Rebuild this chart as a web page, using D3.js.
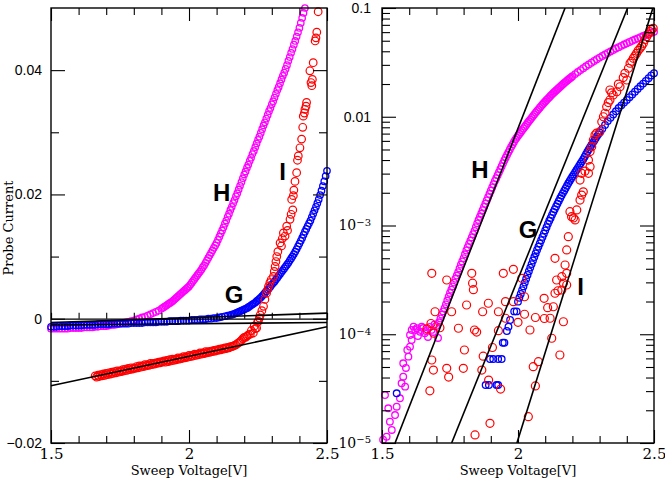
<!DOCTYPE html>
<html><head><meta charset="utf-8">
<script src="https://cdn.jsdelivr.net/npm/d3@7"></script>
<style>body{margin:0;background:#fff}</style>
</head><body>
<svg id="c" width="665" height="486"></svg>
<script>
// ---------------- DATA ----------------
// sweep voltage grid (V)
const sweepV = [1.50,1.51,1.52,1.53,1.54,1.55,1.56,1.57,1.58,1.59,1.60,1.61,1.62,1.63,1.64,1.65,1.66,1.67,1.68,1.69,
1.70,1.71,1.72,1.73,1.74,1.75,1.76,1.77,1.78,1.79,1.80,1.81,1.82,1.83,1.84,1.85,1.86,1.87,1.88,1.89,
1.90,1.91,1.92,1.93,1.94,1.95,1.96,1.97,1.98,1.99,2.00,2.01,2.02,2.03,2.04,2.05,2.06,2.07,2.08,2.09,
2.10,2.11,2.12,2.13,2.14,2.15,2.16,2.17,2.18,2.19,2.20,2.21,2.22,2.23,2.24,2.25,2.26,2.27,2.28,2.29,
2.30,2.31,2.32,2.33,2.34,2.35,2.36,2.37,2.38,2.39,2.40,2.41,2.42,2.43,2.44,2.45,2.46,2.47,2.48,2.49,2.50];

// Left panel: probe current for H and G on the sweep grid
const leftH = [-0.0016,-0.0016,-0.0016,-0.0016,-0.0016,-0.0016,-0.0016,-0.0015,-0.0015,-0.0015,
-0.0015,-0.0015,-0.0014,-0.0014,-0.0014,-0.0014,-0.0013,-0.0013,-0.0012,-0.0012,
-0.0012,-0.0011,-0.0010,-0.0010,-0.0009,-0.0008,-0.0007,-0.0006,-0.0005,-0.0004,
-0.0003,-0.0001,0.0000,0.0002,0.0003,0.0005,0.0007,0.0009,0.0011,0.0013,
0.0016,0.0019,0.0022,0.0025,0.0028,0.0032,0.0036,0.0040,0.0044,0.0048,
0.0052,0.0058,0.0064,0.0070,0.0076,0.0083,0.0090,0.0098,0.0106,0.0114,
0.0122,0.0132,0.0142,0.0153,0.0164,0.0175,0.0186,0.0197,0.0208,0.0220,
0.0232,0.0243,0.0254,0.0265,0.0276,0.0288,0.0299,0.0311,0.0322,0.0334,
0.0345,0.0356,0.0368,0.0379,0.0391,0.0402,0.0415,0.0428,0.0441,0.0454,
0.0468,0.0484,0.0500,null,null,null,null,null,null,null,null];
// extra readings of H between grid points on the rising part [V, current]
const leftHFine = [[1.905,0.00175],[1.915,0.00205],[1.925,0.00235],[1.935,0.00265],[1.945,0.0030],[1.955,0.0034],
[1.965,0.0038],[1.975,0.0042],[1.985,0.0046],[1.995,0.0050],[2.005,0.0055],[2.015,0.0061],[2.025,0.0067],[2.035,0.0073],
[2.045,0.0079],[2.055,0.0086],[2.065,0.0094],[2.075,0.0102],[2.085,0.0110],[2.095,0.0118],[2.105,0.0127],[2.115,0.0137],
[2.125,0.0147],[2.135,0.0158],[2.145,0.0169],[2.155,0.0180],[2.165,0.0191],[2.175,0.0202],[2.185,0.0214],[2.195,0.0226],
[2.205,0.0237],[2.215,0.0248],[2.225,0.0259],[2.235,0.0270],[2.245,0.0282],[2.255,0.0293],[2.265,0.0305],[2.275,0.0316],
[2.285,0.0328],[2.295,0.0339],[2.305,0.0350],[2.315,0.0362],[2.325,0.0373],[2.335,0.0385],[2.345,0.0396],[2.355,0.0408],
[2.365,0.0421],[2.375,0.0434],[2.385,0.0447],[2.395,0.0461],[2.405,0.0476],[2.415,0.0492]];

const leftG = [-0.0013,-0.0013,-0.0013,-0.0012,-0.0012,-0.0012,-0.0012,-0.0011,-0.0011,-0.0011,
-0.0011,-0.0011,-0.0010,-0.0010,-0.0010,-0.0010,-0.0010,-0.0009,-0.0009,-0.0009,
-0.0009,-0.0009,-0.0008,-0.0008,-0.0008,-0.0008,-0.0008,-0.0008,-0.0008,-0.0007,
-0.0007,-0.0007,-0.0007,-0.0007,-0.0006,-0.0006,-0.0006,-0.0006,-0.0006,-0.0005,
-0.0005,-0.0005,-0.0005,-0.0004,-0.0004,-0.0004,-0.0004,-0.0003,-0.0003,-0.0003,
-0.0003,-0.0002,-0.0002,-0.0002,-0.0001,-0.0001,-0.0001,0.0000,0.0000,0.0001,
0.0001,0.0002,0.0003,0.0004,0.0005,0.0006,0.0007,0.0009,0.0011,0.0013,
0.0015,0.0017,0.0020,0.0023,0.0026,0.0030,0.0034,0.0039,0.0044,0.0049,
0.0055,0.0060,0.0066,0.0072,0.0078,0.0084,0.0090,0.0097,0.0104,0.0112,
0.0121,0.0130,0.0140,0.0149,0.0158,0.0169,0.0180,0.0192,0.0206,0.0221,0.0238];
const leftGFine = [[2.155,0.00065],[2.165,0.0008],[2.175,0.0010],[2.185,0.0012],[2.195,0.0014],[2.205,0.0016],
[2.215,0.00185],[2.225,0.00215],[2.235,0.00245],[2.245,0.0028],[2.255,0.0032],[2.265,0.00365],[2.275,0.00415],
[2.285,0.00465],[2.295,0.0052],[2.305,0.00575],[2.315,0.0063],[2.325,0.0069],[2.335,0.0075],[2.345,0.0081],
[2.355,0.0087],[2.365,0.00935],[2.375,0.01005],[2.385,0.0108],[2.395,0.01165],[2.405,0.01255],[2.415,0.0135],
[2.425,0.01445],[2.435,0.01535],[2.445,0.01635],[2.455,0.01745],[2.465,0.0186],[2.475,0.0199],[2.485,0.02135],[2.495,0.02295]];

// Left panel: I (scattered) [V, current]
const leftI = [[1.660,-0.0092],[1.665,-0.0094],[1.670,-0.0091],[1.675,-0.0093],[1.680,-0.0090],[1.685,-0.0092],
[1.690,-0.0089],[1.695,-0.0091],[1.700,-0.0088],[1.705,-0.0090],[1.710,-0.0087],[1.715,-0.0089],[1.720,-0.0086],
[1.725,-0.0088],[1.730,-0.0085],[1.735,-0.0087],[1.740,-0.0084],[1.745,-0.0086],[1.750,-0.0084],[1.755,-0.0085],
[1.760,-0.0082],[1.765,-0.0084],[1.770,-0.0081],[1.775,-0.0083],[1.780,-0.0080],[1.785,-0.0082],[1.790,-0.0079],
[1.795,-0.0081],[1.800,-0.0079],[1.805,-0.0080],[1.810,-0.0077],[1.815,-0.0079],[1.820,-0.0076],[1.825,-0.0078],
[1.830,-0.0076],[1.835,-0.0077],[1.840,-0.0074],[1.845,-0.0076],[1.850,-0.0074],[1.855,-0.0075],[1.860,-0.0072],
[1.865,-0.0074],[1.870,-0.0072],[1.875,-0.0073],[1.880,-0.0071],[1.885,-0.0072],[1.890,-0.0070],[1.895,-0.0071],
[1.900,-0.0069],[1.905,-0.0070],[1.910,-0.0068],[1.915,-0.0070],[1.920,-0.0067],[1.925,-0.0069],[1.930,-0.0066],
[1.935,-0.0068],[1.940,-0.0065],[1.945,-0.0067],[1.950,-0.0065],[1.955,-0.0066],[1.960,-0.0063],[1.965,-0.0065],
[1.970,-0.0063],[1.975,-0.0064],[1.980,-0.0061],[1.985,-0.0063],[1.990,-0.0061],[1.995,-0.0062],[2.000,-0.0059],
[2.005,-0.0061],[2.010,-0.0059],[2.015,-0.0060],[2.020,-0.0057],[2.025,-0.0059],[2.030,-0.0057],[2.035,-0.0058],
[2.040,-0.0055],[2.045,-0.0057],[2.050,-0.0055],[2.055,-0.0056],[2.060,-0.0053],[2.065,-0.0055],[2.070,-0.0053],
[2.075,-0.0054],[2.080,-0.0052],[2.085,-0.0053],[2.090,-0.0051],[2.095,-0.0052],[2.100,-0.0050],[2.105,-0.0051],
[2.110,-0.0049],[2.115,-0.0050],[2.120,-0.0048],[2.125,-0.0049],[2.130,-0.0047],[2.135,-0.0048],[2.140,-0.0046],
[2.145,-0.0047],[2.150,-0.0045],[2.155,-0.0045],[2.160,-0.0044],[2.165,-0.0043],[2.170,-0.0042],[2.175,-0.0040],
[2.180,-0.0039],[2.185,-0.0037],[2.190,-0.0035],[2.195,-0.0032],[2.200,-0.0030],
[2.205,-0.0030],[2.210,-0.0028],[2.215,-0.0026],[2.222,-0.0025],[2.226,-0.0019],[2.233,-0.0023],[2.236,-0.0012],
[2.240,-0.0016],[2.245,-0.0015],[2.248,-0.0006],[2.251,-0.0004],[2.255,0.0001],[2.258,0.0006],[2.264,0.0013],
[2.270,0.0020],[2.275,0.0031],[2.281,0.0041],[2.285,0.0047],[2.288,0.0052],[2.293,0.0058],[2.298,0.0063],
[2.306,0.0068],[2.309,0.0076],[2.312,0.0084],[2.315,0.0092],[2.318,0.0100],[2.322,0.0108],[2.330,0.0122],
[2.335,0.0117],[2.338,0.0129],[2.342,0.0138],[2.348,0.0133],[2.354,0.0149],[2.357,0.0142],[2.366,0.0160],
[2.370,0.0168],[2.376,0.0175],[2.372,0.0192],[2.378,0.0198],[2.380,0.0207],[2.384,0.0221],[2.390,0.0235],
[2.393,0.0255],[2.396,0.0262],[2.402,0.0275],[2.408,0.0289],[2.412,0.0308],[2.414,0.0326],[2.418,0.0331],
[2.420,0.0337],[2.426,0.0348],[2.424,0.0342],[2.445,0.0375],[2.447,0.0385],[2.442,0.0380],[2.438,0.0399],
[2.450,0.0412],[2.457,0.0447],[2.460,0.0452],[2.463,0.0461],[2.468,0.0494]];

// Left panel linear ion-saturation fits: [V, current] endpoints
const fitLeftH = [[1.5,-0.0006],[2.5,0.0009]];
const fitLeftG = [[1.5,-0.0010],[2.5,-0.0006]];
const fitLeftI = [[1.5,-0.0108],[2.5,-0.0013]];

// Right panel: log10 of electron current on the sweep grid (H from 1.71 V, G from 2.00 V)
const rightH_log10 = [null,null,null,null,null,null,null,null,null,null,null,null,null,null,null,null,null,null,null,null,null,
-3.89,-3.82,-3.76,-3.69,-3.62,-3.56,-3.49,-3.43,-3.36,
-3.30,-3.23,-3.17,-3.11,-3.05,-2.98,-2.92,-2.86,-2.80,-2.74,
-2.68,-2.62,-2.565,-2.51,-2.455,-2.40,-2.35,-2.30,-2.255,-2.21,
-2.175,-2.142,-2.108,-2.075,-2.042,-2.010,-1.978,-1.947,-1.917,-1.888,
-1.860,-1.833,-1.807,-1.782,-1.758,-1.735,-1.712,-1.690,-1.669,-1.648,
-1.628,-1.608,-1.589,-1.571,-1.553,-1.536,-1.519,-1.503,-1.487,-1.471,
-1.456,-1.441,-1.427,-1.413,-1.399,-1.386,-1.373,-1.360,-1.348,-1.336,
-1.324,-1.312,-1.301,-1.290,-1.279,-1.268,-1.258,-1.248,-1.238,-1.228,-1.218];
const rightHFine_log10 = [[1.715,-3.855],[1.725,-3.79],[1.735,-3.725],[1.745,-3.655],[1.755,-3.59],[1.765,-3.525],
[1.775,-3.46],[1.785,-3.395],[1.795,-3.33],[1.805,-3.265],[1.815,-3.20],[1.825,-3.14],[1.835,-3.08],[1.845,-3.015],
[1.855,-2.95],[1.865,-2.89],[1.875,-2.83],[1.885,-2.77],[1.895,-2.71],[1.905,-2.65],[1.915,-2.59],[1.925,-2.537],
[1.935,-2.482],[1.945,-2.427],[1.955,-2.375],[1.965,-2.325],[1.975,-2.277],[1.985,-2.232],[1.995,-2.192],[2.005,-2.158],
[2.015,-2.125],[2.025,-2.091],[2.035,-2.058],[2.045,-2.026],[2.055,-1.994],[2.065,-1.962],[2.075,-1.932],[2.085,-1.902],
[2.095,-1.874],[2.105,-1.846],[2.115,-1.82],[2.125,-1.794],[2.135,-1.77],[2.145,-1.746],[2.155,-1.723],[2.165,-1.701],
[2.175,-1.679],[2.185,-1.658],[2.195,-1.638]];
// noisy low-current part of H: [V, log10 current]
const rightHScatter_log10 = [[1.504,-4.97],[1.511,-4.559],[1.517,-4.942],[1.523,-4.681],[1.529,-4.804],[1.536,-4.880],
[1.548,-4.743],[1.554,-4.666],[1.566,-4.589],[1.572,-4.451],[1.578,-4.390],[1.578,-4.267],[1.585,-4.482],
[1.588,-4.310],[1.593,-4.145],[1.597,-4.206],[1.603,-4.114],[1.603,-4.007],[1.609,-4.053],[1.609,-3.961],
[1.616,-3.93],[1.622,-3.96],[1.628,-3.945],[1.632,-4.016],[1.640,-3.977],[1.646,-3.93],[1.651,-3.943],
[1.657,-3.99],[1.662,-3.970],[1.669,-4.025],[1.676,-3.933],[1.682,-3.96],[1.688,-3.979],[1.693,-3.91],
[1.699,-3.924],[1.706,-4.034]];

const rightG_log10 = [null,null,null,null,null,null,null,null,null,null,null,null,null,null,null,null,null,null,null,null,
null,null,null,null,null,null,null,null,null,null,null,null,null,null,null,null,null,null,null,null,
null,null,null,null,null,null,null,null,null,null,
-3.70,-3.63,-3.56,-3.49,-3.42,-3.355,-3.29,-3.225,-3.165,-3.105,
-3.045,-2.985,-2.93,-2.875,-2.825,-2.775,-2.725,-2.68,-2.635,-2.59,
-2.55,-2.51,-2.47,-2.43,-2.39,-2.345,-2.30,-2.26,-2.22,-2.18,
-2.145,-2.11,-2.075,-2.04,-2.01,-1.98,-1.95,-1.92,-1.895,-1.87,
-1.845,-1.82,-1.795,-1.77,-1.745,-1.72,-1.695,-1.67,-1.645,-1.62,-1.60];
const rightGFine_log10 = [[2.005,-3.665],[2.015,-3.595],[2.025,-3.525],[2.035,-3.455],[2.045,-3.387],[2.055,-3.322],
[2.065,-3.257],[2.075,-3.195],[2.085,-3.135],[2.095,-3.075],[2.105,-3.015],[2.115,-2.957],[2.125,-2.902],[2.135,-2.85],
[2.145,-2.80],[2.155,-2.75],[2.165,-2.702],[2.175,-2.657],[2.185,-2.612],[2.195,-2.57],[2.205,-2.53],[2.215,-2.49],
[2.225,-2.45],[2.235,-2.41],[2.245,-2.367],[2.255,-2.322],[2.265,-2.28],[2.275,-2.24],[2.285,-2.20],[2.295,-2.162]];
const rightGScatter_log10 = [[1.554,-4.543],[1.881,-4.467],[1.893,-4.467],[1.921,-4.467],[1.927,-4.467],
[1.897,-4.228],[1.909,-4.228],[1.927,-4.228],[1.940,-4.228],[1.944,-4.078],[1.950,-4.078],[1.959,-3.97],
[1.965,-3.93],[1.971,-3.869],[1.986,-3.79],[1.995,-3.79]];

// Right panel I: [V, log10 current]
const rightI_log10 = [[2.497,-1.187],[2.491,-1.20],[2.485,-1.218],[2.479,-1.24],[2.473,-1.264],[2.467,-1.29],
[2.461,-1.325],[2.455,-1.35],[2.449,-1.371],[2.442,-1.39],[2.436,-1.417],[2.430,-1.44],[2.424,-1.463],[2.418,-1.49],
[2.412,-1.508],[2.406,-1.554],[2.400,-1.662],[2.393,-1.601],[2.387,-1.64],[2.375,-1.724],[2.369,-1.70],[2.363,-1.770],
[2.350,-1.800],[2.344,-1.78],[2.338,-1.754],[2.338,-1.846],[2.332,-1.87],[2.326,-1.907],[2.320,-1.968],[2.314,-2.00],
[2.308,-2.046],[2.301,-2.137],[2.289,-2.15],[2.283,-2.168],[2.277,-2.214],[2.271,-2.275],[2.265,-2.32],[2.259,-2.398],
[2.265,-2.459],[2.234,-2.520],[2.259,-2.520],[2.246,-2.50],[2.228,-2.582],[2.240,-2.690],[2.234,-2.72],[2.228,-2.766],
[2.216,-2.857],[2.197,-2.919],[2.210,-2.949],[2.191,-2.873],[2.204,-2.93],[2.185,-3.103],[2.179,-3.225],[2.173,-3.363],
[2.161,-3.471],[2.179,-3.547],[2.167,-3.53],[2.142,-3.501],[2.161,-3.593],[2.136,-3.302],[2.136,-3.623],[2.130,-3.747],
[2.167,-3.885],[2.118,-3.853],[2.124,-4.037],[2.154,-4.191],[2.179,-3.44],[2.147,-3.60],
[1.683,-3.440],[1.738,-3.501],[1.830,-3.440],[1.946,-3.440],[1.983,-3.403],[2.014,-3.486],
[1.833,-3.53],[1.836,-3.59],[1.891,-3.715],[1.954,-3.70],[1.983,-3.70],[2.024,-3.655],[2.096,-3.67],[1.811,-3.731],
[1.695,-3.793],[1.756,-3.793],[1.870,-3.793],[1.928,-3.793],[1.954,-3.853],[2.024,-3.816],[2.064,-3.846],[2.097,-3.855],
[2.109,-3.756],[1.680,-3.901],[1.713,-3.94],[1.781,-3.945],[1.840,-3.961],[1.848,-3.98],[1.928,-3.967],[2.000,-3.89],
[2.044,-3.961],[1.803,-4.145],[1.872,-4.202],[1.906,-4.122],[1.683,-4.237],[1.689,-4.329],[1.738,-4.313],[1.799,-4.313],
[1.867,-4.329],[2.056,-4.298],[2.075,-4.252],[1.745,-4.394],[1.892,-4.421],[1.936,-4.504],[2.064,-4.475],[1.676,-4.520],
[1.897,-4.819],[2.038,-4.758],[1.842,-4.926],[1.665,-3.95],[1.690,-3.99]];

// Right panel exponential fits: [V, current] endpoints
const fitRightH = [[1.548,1e-5],[2.173,0.1]];
const fitRightG = [[1.756,1e-5],[2.403,0.1]];
const fitRightI = [[1.996,1e-5],[2.496,0.1]];

// Axis ticks / labels
const xMajor = [1.5, 2, 2.5];
const xMinor = [1.6,1.7,1.8,1.9,2.1,2.2,2.3,2.4];
const leftYMajor = [-0.02, 0, 0.02, 0.04];
const leftYMinor = [-0.01, 0.01, 0.03];
const rightYDecades = [1e-5, 1e-4, 1e-3, 1e-2, 1e-1];
const rightYLabels = [{v:0.1,t:"0.1"},{v:0.01,t:"0.01"},{v:1e-3,b:"10",e:"\u22123"},{v:1e-4,b:"10",e:"\u22124"},{v:1e-5,b:"10",e:"\u22125"}];
const xTitle = "Sweep Voltage[V]";
const yTitle = "Probe Current";
// curve annotations in data units
const leftNotes = [{t:"H",v:2.118,i:0.0189},{t:"I",v:2.339,i:0.0224},{t:"G",v:2.163,i:0.0026}];
const rightNotes = [{t:"H",v:1.860,i:2.74e-3},{t:"G",v:2.037,i:7.7e-4},{t:"I",v:2.230,i:2.3e-4}];

// ---------------- DRAW ----------------
const svg = d3.select("#c");
const COL = {H:"#ff00ff", G:"#0000ff", I:"#ff0000"};
const serif = "'DejaVu Serif', serif";
const sans = "'Liberation Sans', Arial, sans-serif";

const xL = d3.scaleLinear().domain([1.5,2.5]).range([51,327]);
const yL = d3.scaleLinear().domain([-0.02,0.05]).range([443,8]);
const xR = d3.scaleLinear().domain([1.5,2.5]).range([382,654]);
const yR = d3.scaleLog().domain([1e-5,0.1]).range([443,8]);

function circles(g, pts, x, y, col, r, sw){
  g.selectAll(null).data(pts).enter().append("circle")
    .attr("cx", d=>x(d[0])).attr("cy", d=>y(d[1])).attr("r", r)
    .attr("fill","none").attr("stroke",col).attr("stroke-width",sw||1.3);
}
function axisStyle(g){ g.select(".domain").remove(); g.selectAll("line").attr("stroke","#000").attr("stroke-width",1.1); return g; }
const gridPts = (arr)=> sweepV.map((v,k)=>[v,arr[k]]).filter(d=>d[1]!==null);
const byV = (a,b)=>a[0]-b[0];

// ---- LEFT PANEL ----
const L = svg.append("g");
circles(L, gridPts(leftH).concat(leftHFine).sort(byV), xL, yL, COL.H, 3.2);
circles(L, gridPts(leftG).concat(leftGFine).sort(byV), xL, yL, COL.G, 3.2);
circles(L, leftI, xL, yL, COL.I, 3.8, 1.2);

// zero line with ticks
const zg = L.append("g").attr("transform",`translate(0,${yL(0)})`)
  .call(d3.axisBottom(xL).tickValues(xMinor.concat([2])).tickSize(-6).tickFormat(""));
zg.select(".domain").attr("stroke","#000").attr("stroke-width",1.2);
zg.selectAll("line").attr("stroke","#000").attr("stroke-width",1.1);

const line = d3.line();
[fitLeftH, fitLeftG, fitLeftI].forEach(f=>{
  L.append("path").attr("d", line(f.map(d=>[xL(d[0]), yL(d[1])])))
   .attr("fill","none").attr("stroke","#000").attr("stroke-width",1.6);
});

function xAxes(G, x, yBottom, yTop){
  axisStyle(G.append("g").attr("transform",`translate(0,${yBottom})`).call(d3.axisBottom(x).tickValues(xMinor).tickSize(-7).tickFormat("")));
  axisStyle(G.append("g").attr("transform",`translate(0,${yTop})`).call(d3.axisTop(x).tickValues(xMinor).tickSize(-7).tickFormat("")));
  axisStyle(G.append("g").attr("transform",`translate(0,${yTop})`).call(d3.axisTop(x).tickValues(xMajor).tickSize(-13).tickFormat("")));
  const bx = axisStyle(G.append("g").attr("transform",`translate(0,${yBottom})`)
    .call(d3.axisBottom(x).tickValues(xMajor).tickSize(-13).tickPadding(5).tickFormat(d=>String(d))));
  bx.selectAll("text").attr("font-family",serif).attr("font-size",15).attr("fill","#000");
}
xAxes(L, xL, 443, 8);
axisStyle(L.append("g").attr("transform","translate(51,0)").call(d3.axisLeft(yL).tickValues(leftYMinor).tickSize(-8).tickFormat("")));
axisStyle(L.append("g").attr("transform","translate(327,0)").call(d3.axisRight(yL).tickValues(leftYMinor).tickSize(-8).tickFormat("")));
axisStyle(L.append("g").attr("transform","translate(327,0)").call(d3.axisRight(yL).tickValues(leftYMajor).tickSize(-14).tickFormat("")));
const ly = axisStyle(L.append("g").attr("transform","translate(51,0)")
  .call(d3.axisLeft(yL).tickValues(leftYMajor).tickSize(-14).tickPadding(9).tickFormat(d=> d===0 ? "0" : d3.format(".2f")(d))));
ly.selectAll("text").attr("font-family",sans).attr("font-size",14).attr("fill","#000");
L.append("rect").attr("x",51).attr("y",8).attr("width",276).attr("height",435)
  .attr("fill","none").attr("stroke","#000").attr("stroke-width",1.4);

L.selectAll(null).data(leftNotes).enter().append("text")
  .attr("x",d=>xL(d.v)).attr("y",d=>yL(d.i)).attr("text-anchor","middle")
  .attr("font-family",sans).attr("font-weight","bold").attr("font-size",24).text(d=>d.t);

L.append("text").attr("x",xL(2)).attr("y",475).attr("text-anchor","middle")
  .attr("font-family",serif).attr("font-size",13).text(xTitle);
L.append("text").attr("transform",`translate(13,${228}) rotate(-90)`).attr("text-anchor","middle")
  .attr("font-family",serif).attr("font-size",13).text(yTitle);

// ---- RIGHT PANEL ----
const R = svg.append("g");
svg.append("defs").append("clipPath").attr("id","clipR").append("rect")
  .attr("x",382).attr("y",8).attr("width",272).attr("height",435);
const pw = d=>[d[0], Math.pow(10,d[1])];
circles(R, rightHScatter_log10.map(pw), xR, yR, COL.H, 3.3);
circles(R, gridPts(rightH_log10).concat(rightHFine_log10).sort(byV).map(pw), xR, yR, COL.H, 3.3);
circles(R, rightGScatter_log10.map(pw), xR, yR, COL.G, 3.3);
circles(R, gridPts(rightG_log10).concat(rightGFine_log10).sort(byV).map(pw), xR, yR, COL.G, 3.3);
circles(R, rightI_log10.map(pw), xR, yR, COL.I, 4, 1.2);

[fitRightH, fitRightG, fitRightI].forEach(f=>{
  R.append("path").attr("clip-path","url(#clipR)").attr("d", line(f.map(d=>[xR(d[0]), yR(d[1])])))
   .attr("fill","none").attr("stroke","#000").attr("stroke-width",1.6);
});

xAxes(R, xR, 443, 8);
const minorLog = [];
rightYDecades.slice(0,4).forEach(dd=>{ for(let m=2;m<=9;m++) minorLog.push(dd*m); });
axisStyle(R.append("g").attr("transform","translate(382,0)").call(d3.axisLeft(yR).tickValues(minorLog).tickSize(-8).tickFormat("")));
axisStyle(R.append("g").attr("transform","translate(654,0)").call(d3.axisRight(yR).tickValues(minorLog).tickSize(-8).tickFormat("")));
axisStyle(R.append("g").attr("transform","translate(382,0)").call(d3.axisLeft(yR).tickValues(rightYDecades).tickSize(-14).tickFormat("")));
axisStyle(R.append("g").attr("transform","translate(654,0)").call(d3.axisRight(yR).tickValues(rightYDecades).tickSize(-14).tickFormat("")));
R.append("rect").attr("x",382).attr("y",8).attr("width",272).attr("height",435)
  .attr("fill","none").attr("stroke","#000").attr("stroke-width",1.4);

rightYLabels.forEach(l=>{
  const t = R.append("text").attr("x",371).attr("y",yR(l.v)).attr("dy","0.35em").attr("text-anchor","end").attr("fill","#000");
  if(l.t){ t.attr("font-family",sans).attr("font-size",14).text(l.t); }
  else {
    t.attr("font-family",serif).attr("font-size",14);
    t.append("tspan").text(l.b);
    t.append("tspan").attr("dy","-0.45em").attr("font-size",10).text(l.e);
  }
});

R.selectAll(null).data(rightNotes).enter().append("text")
  .attr("x",d=>xR(d.v)).attr("y",d=>yR(d.i)).attr("text-anchor","middle")
  .attr("font-family",sans).attr("font-weight","bold").attr("font-size",24).text(d=>d.t);

R.append("text").attr("x",xR(2)).attr("y",475).attr("text-anchor","middle")
  .attr("font-family",serif).attr("font-size",13).text(xTitle);
</script>
</body></html>
